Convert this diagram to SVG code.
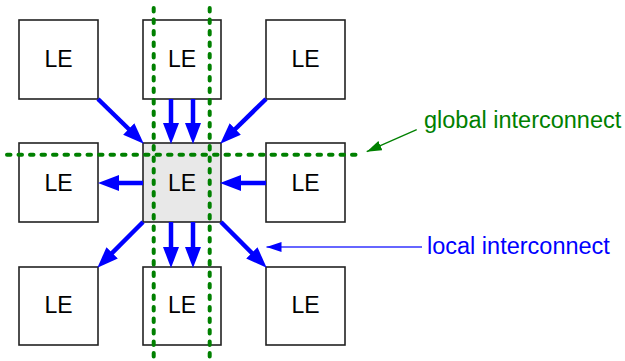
<svg xmlns="http://www.w3.org/2000/svg" width="625" height="361" viewBox="0 0 625 361">
<style>
.box{fill:#fff;stroke:#222;stroke-width:1.6}
.center{fill:#e8e8e8}
.le{font-family:"Liberation Sans",Arial,sans-serif;font-size:23px;fill:#000;text-anchor:middle}
.lbl{font-family:"Liberation Sans",Arial,sans-serif;font-size:23.5px}
.arr{stroke:#0000ff;stroke-width:4.5;fill:none;marker-end:url(#bh)}
.dot{stroke:#008000;stroke-width:4;fill:none;stroke-linecap:round;stroke-dasharray:3.5 8}
</style>
<defs>
<marker id="bh" markerUnits="userSpaceOnUse" markerWidth="24" markerHeight="18" refX="10" refY="8" orient="auto">
<path d="M0,0 L21,8 L0,16 z" fill="#0000ff"/>
</marker>
<marker id="lh" markerUnits="userSpaceOnUse" markerWidth="16" markerHeight="12" refX="15" refY="5" orient="auto">
<path d="M0,0 L15,5 L0,10 z" fill="#0000ff"/>
</marker>
<marker id="gh" markerUnits="userSpaceOnUse" markerWidth="16" markerHeight="12" refX="15" refY="5" orient="auto">
<path d="M0,0 L15,5 L0,10 z" fill="#008000"/>
</marker>
</defs>
<g id="le-tl"><rect class="box" x="19" y="20" width="79" height="79"/><text class="le" x="58.5" y="66.5">LE</text></g>
<g id="le-tm"><rect class="box" x="143" y="20" width="78" height="79"/><text class="le" x="182" y="66.5">LE</text></g>
<g id="le-tr"><rect class="box" x="266" y="20" width="79" height="79"/><text class="le" x="305.5" y="66.5">LE</text></g>
<g id="le-ml"><rect class="box" x="19" y="143" width="79" height="79"/><text class="le" x="58.5" y="190.5">LE</text></g>
<g id="le-c"><rect class="box center" x="143" y="143" width="78" height="79"/><text class="le" x="182" y="190.5">LE</text></g>
<g id="le-mr"><rect class="box" x="266" y="143" width="79" height="79"/><text class="le" x="305.5" y="190.5">LE</text></g>
<g id="le-bl"><rect class="box" x="19" y="267" width="79" height="78"/><text class="le" x="58.5" y="313">LE</text></g>
<g id="le-bm"><rect class="box" x="143" y="267" width="78" height="78"/><text class="le" x="182" y="313">LE</text></g>
<g id="le-br"><rect class="box" x="266" y="267" width="79" height="78"/><text class="le" x="305.5" y="313">LE</text></g>
<g id="connectors">
<line class="dot" x1="153.7" y1="8" x2="153.7" y2="358"/>
<line class="dot" x1="209.7" y1="8" x2="209.7" y2="358"/>
<line class="dot" x1="7" y1="154.7" x2="358" y2="154.7"/>
<line class="arr" x1="98" y1="99" x2="135.9" y2="136"/>
<line class="arr" x1="171" y1="99" x2="171" y2="133"/>
<line class="arr" x1="193" y1="99" x2="193" y2="133"/>
<line class="arr" x1="266" y1="99" x2="228.1" y2="136"/>
<line class="arr" x1="143" y1="183" x2="109" y2="183"/>
<line class="arr" x1="266" y1="183" x2="231" y2="183"/>
<line class="arr" x1="143" y1="222" x2="105.1" y2="260"/>
<line class="arr" x1="171" y1="222" x2="171" y2="257"/>
<line class="arr" x1="193" y1="222" x2="193" y2="257"/>
<line class="arr" x1="221" y1="222" x2="258.9" y2="260"/>
<line x1="422" y1="247" x2="266.5" y2="247" stroke="#3333ff" stroke-width="1.3" marker-end="url(#lh)"/>
<line x1="416.7" y1="129.7" x2="366.7" y2="151.7" stroke="#008000" stroke-width="1.3" marker-end="url(#gh)"/>
</g>
<g id="labels">
<text class="lbl" x="424" y="128" fill="#008000">global interconnect</text>
<text class="lbl" x="427" y="253.5" fill="#0000ff">local interconnect</text>
</g>
</svg>
